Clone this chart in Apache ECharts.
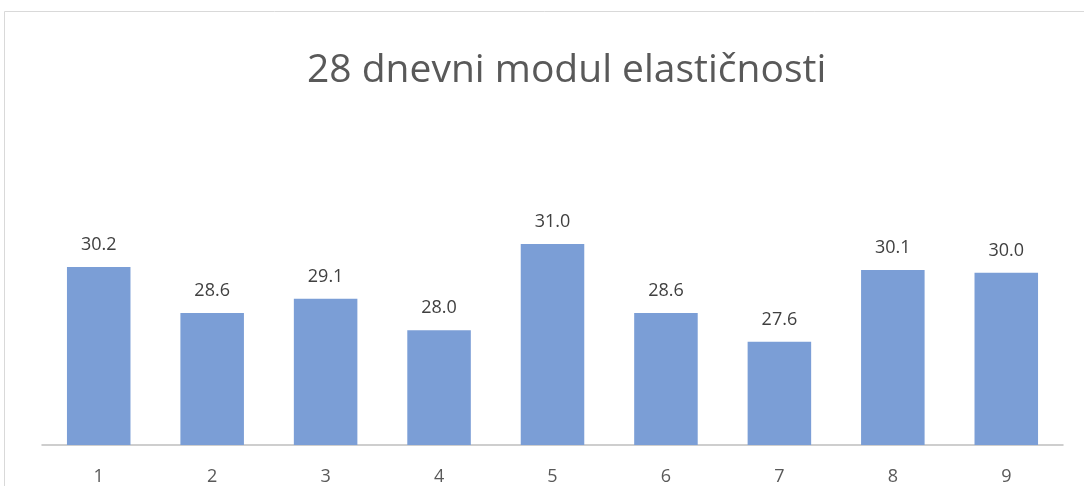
<!DOCTYPE html>
<html>
<head>
<meta charset="utf-8">
<script src="https://cdn.jsdelivr.net/npm/echarts@6/dist/echarts.min.js"></script>
<style>
  html, body { margin: 0; padding: 0; background: #ffffff; }
  #chart { width: 1084px; height: 486px; }
</style>
</head>
<body>
<div id="chart"></div>
<script>
// Specimen numbers and their 28-day modulus of elasticity
const categories = ['1', '2', '3', '4', '5', '6', '7', '8', '9'];
const modulusValues = [30.2, 28.6, 29.1, 28.0, 31.0, 28.6, 27.6, 30.1, 30.0];
const titleText = '28 dnevni modul elastičnosti';

const chart = echarts.init(document.getElementById('chart'));

chart.setOption({
  backgroundColor: '#ffffff',
  animation: false,
  graphic: [{
    type: 'rect',
    shape: { x: 4.5, y: 11.5, width: 1200, height: 600 },
    style: { fill: 'none', stroke: '#d9d9d9', lineWidth: 1 },
    silent: true
  }],
  title: {
    text: titleText,
    left: 302,
    top: 46,
    textStyle: {
      fontFamily: 'Open Sans',
      fontSize: 39,
      fontWeight: 'normal',
      color: '#595959'
    }
  },
  grid: { left: 42, right: 21, top: 158, bottom: 41, outerBoundsMode: 'none', containLabel: false },
  xAxis: {
    type: 'category',
    data: categories,
    axisLine: { lineStyle: { color: '#bfbfbf', width: 1.5 } },
    axisTick: { show: false },
    axisLabel: {
      margin: 23,
      fontFamily: 'Open Sans',
      fontSize: 18,
      color: '#595959'
    }
  },
  yAxis: {
    type: 'value',
    min: 24,
    max: 34,
    show: false
  },
  series: [{
    type: 'bar',
    data: modulusValues,
    barCategoryGap: '44%',
    itemStyle: { color: '#7b9ed6' },
    label: {
      show: true,
      position: 'top',
      distance: 13,
      formatter: p => p.value.toFixed(1),
      fontFamily: 'Open Sans',
      fontSize: 18,
      color: '#404040'
    }
  }]
});
</script>
</body>
</html>
